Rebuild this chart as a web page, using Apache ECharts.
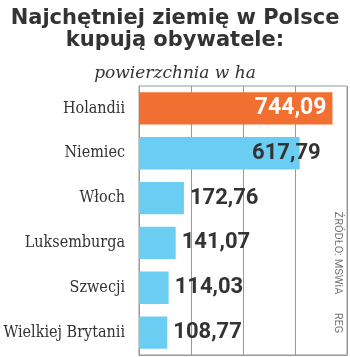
<!DOCTYPE html>
<html><head><meta charset="utf-8">
<script src="https://cdn.jsdelivr.net/npm/echarts@6/dist/echarts.min.js"></script>
<style>html,body{margin:0;padding:0;background:#fff}#c{width:350px;height:357px}</style>
</head><body><div id="c"></div>
<script>
var categories = ['Holandii', 'Niemiec', 'Włoch', 'Luksemburga', 'Szwecji', 'Wielkiej Brytanii'];
var values = [744.09, 617.79, 172.76, 141.07, 114.03, 108.77];
var valueLabels = ['744,09', '617,79', '172,76', '141,07', '114,03', '108,77'];
var titleText = 'Najchętniej ziemię w Polsce\nkupują obywatele:';
var subtitleText = 'powierzchnia w ha';
var sourceText = 'ŹRÓDŁO: MSWiA';
var authorText = 'REG';

var ORANGE = '#F26F32', BLUE = '#6CCDF3', DARK = '#333333';
var chart = echarts.init(document.getElementById('c'), null, {renderer: 'canvas'});
var data = values.map(function (v, i) {
  var item = {value: v, itemStyle: {color: i === 0 ? ORANGE : BLUE}};
  if (i === 0) item.label = {position: 'insideRight', distance: 6, color: '#fff', fontSize: 23};
  else if (i === 1) item.label = {position: 'insideRight', distance: 5, offset: [26, 0]};
  return item;
});
chart.setOption({
  animation: false,
  title: [{
    text: titleText, left: 'center', top: 3,
    textStyle: {fontFamily: 'DejaVu Sans', fontWeight: 'bold', fontSize: 21, lineHeight: 22, color: DARK}
  }, {
    text: subtitleText, left: 'center', top: 60,
    textStyle: {fontFamily: 'DejaVu Serif', fontStyle: 'italic', fontWeight: 'normal', fontSize: 17, color: DARK}
  }],
  grid: {left: 139, right: 3, top: 86, bottom: 2, show: true, borderColor: '#999', borderWidth: 1, containLabel: false},
  xAxis: {
    type: 'value', min: 0, max: 800, interval: 200,
    axisLabel: {show: false}, axisTick: {show: false},
    axisLine: {show: true, lineStyle: {color: '#999'}},
    splitLine: {show: true, lineStyle: {color: '#999', width: 1}}
  },
  yAxis: {
    type: 'category', data: categories, inverse: true,
    axisTick: {show: false},
    axisLine: {show: true, lineStyle: {color: '#999'}},
    axisLabel: {margin: 14, fontFamily: 'DejaVu Serif Condensed', fontSize: 16, color: DARK}
  },
  series: [{
    type: 'bar', data: data, barCategoryGap: '28%',
    label: {
      show: true, position: 'right', distance: 6,
      fontFamily: 'Roboto', fontWeight: 'bold', fontSize: 22, color: DARK,
      formatter: function (p) { return valueLabels[p.dataIndex]; }
    }
  }],
  graphic: [{
    type: 'text', x: 338, y: 253, rotation: -Math.PI / 2,
    style: {text: sourceText, textAlign: 'center', textVerticalAlign: 'middle', fontFamily: 'Roboto', fontSize: 11, fill: '#777'}
  }, {
    type: 'text', x: 338, y: 323, rotation: -Math.PI / 2,
    style: {text: authorText, textAlign: 'center', textVerticalAlign: 'middle', fontFamily: 'Roboto', fontSize: 11, fill: '#777'}
  }]
});
</script></body></html>
